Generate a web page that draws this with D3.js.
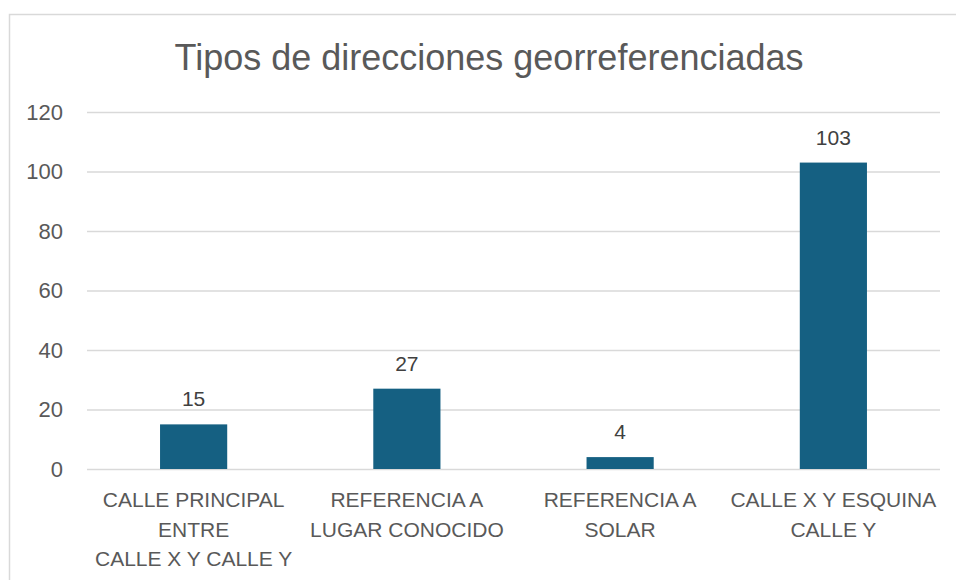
<!DOCTYPE html>
<html>
<head>
<meta charset="utf-8">
<script src="https://cdn.jsdelivr.net/npm/d3@7"></script>
<style>
body { margin: 0; background: #fff; }
text { font-family: "Liberation Sans", Arial, sans-serif; }
</style>
</head>
<body>
<script>
var categories = [
  ["CALLE PRINCIPAL", "ENTRE", "CALLE X Y CALLE Y"],
  ["REFERENCIA A", "LUGAR CONOCIDO"],
  ["REFERENCIA A", "SOLAR"],
  ["CALLE X Y ESQUINA", "CALLE Y"]
];
var values = [15, 27, 4, 103];
var yTicks = [0, 20, 40, 60, 80, 100, 120];
var title = "Tipos de direcciones georreferenciadas";

var width = 956, height = 580;
var margin = {left: 87, right: 16, top: 112, bottom: 111};

var svg = d3.select("body").append("svg")
  .attr("width", width)
  .attr("height", height);

// chart border
svg.append("rect")
  .attr("x", 9.5)
  .attr("y", 14.5)
  .attr("width", 1000)
  .attr("height", 1000)
  .attr("fill", "none")
  .attr("stroke", "#d9d9d9")
  .attr("stroke-width", 1.5);

var x = d3.scaleBand()
  .domain(d3.range(categories.length))
  .range([margin.left, width - margin.right])
  .paddingInner(0.685)
  .paddingOuter(0.3425);

var y = d3.scaleLinear()
  .domain([0, 120])
  .range([height - margin.bottom, margin.top]);

// title
svg.append("text")
  .attr("x", 489)
  .attr("y", 70)
  .attr("text-anchor", "middle")
  .attr("font-size", "36px")
  .attr("fill", "#595959")
  .text(title);

// gridlines + y labels
var yAxis = d3.axisLeft(y)
  .tickValues(yTicks)
  .tickSize(-(width - margin.left - margin.right))
  .tickPadding(24);

var gy = svg.append("g")
  .attr("transform", "translate(" + margin.left + ",0)")
  .call(yAxis);
gy.select(".domain").remove();
gy.selectAll(".tick line")
  .attr("stroke", "#d9d9d9")
  .attr("stroke-width", 1.5);
gy.selectAll(".tick text")
  .attr("font-size", "22px")
  .attr("fill", "#595959")
  .attr("font-family", "Liberation Sans, Arial, sans-serif");

// bars
svg.selectAll(".bar")
  .data(values)
  .enter()
  .append("rect")
  .attr("class", "bar")
  .attr("x", function(d, i){ return x(i); })
  .attr("y", function(d){ return y(d); })
  .attr("width", x.bandwidth())
  .attr("height", function(d){ return y(0) - y(d); })
  .attr("fill", "#156082");

// value labels
svg.selectAll(".val")
  .data(values)
  .enter()
  .append("text")
  .attr("class", "val")
  .attr("x", function(d, i){ return x(i) + x.bandwidth() / 2; })
  .attr("y", function(d){ return y(d) - 18; })
  .attr("text-anchor", "middle")
  .attr("font-size", "21px")
  .attr("fill", "#404040")
  .text(function(d){ return d; });

// category labels
var cat = svg.selectAll(".cat")
  .data(categories)
  .enter()
  .append("text")
  .attr("class", "cat")
  .attr("text-anchor", "middle")
  .attr("font-size", "21px")
  .attr("fill", "#595959");

cat.selectAll("tspan")
  .data(function(d, i){ return d.map(function(s){ return {s: s, i: i}; }); })
  .enter()
  .append("tspan")
  .attr("x", function(d){ return x(d.i) + x.bandwidth() / 2; })
  .attr("y", function(d, j){ return 507 + j * 29.5; })
  .text(function(d){ return d.s; });
</script>
</body>
</html>
